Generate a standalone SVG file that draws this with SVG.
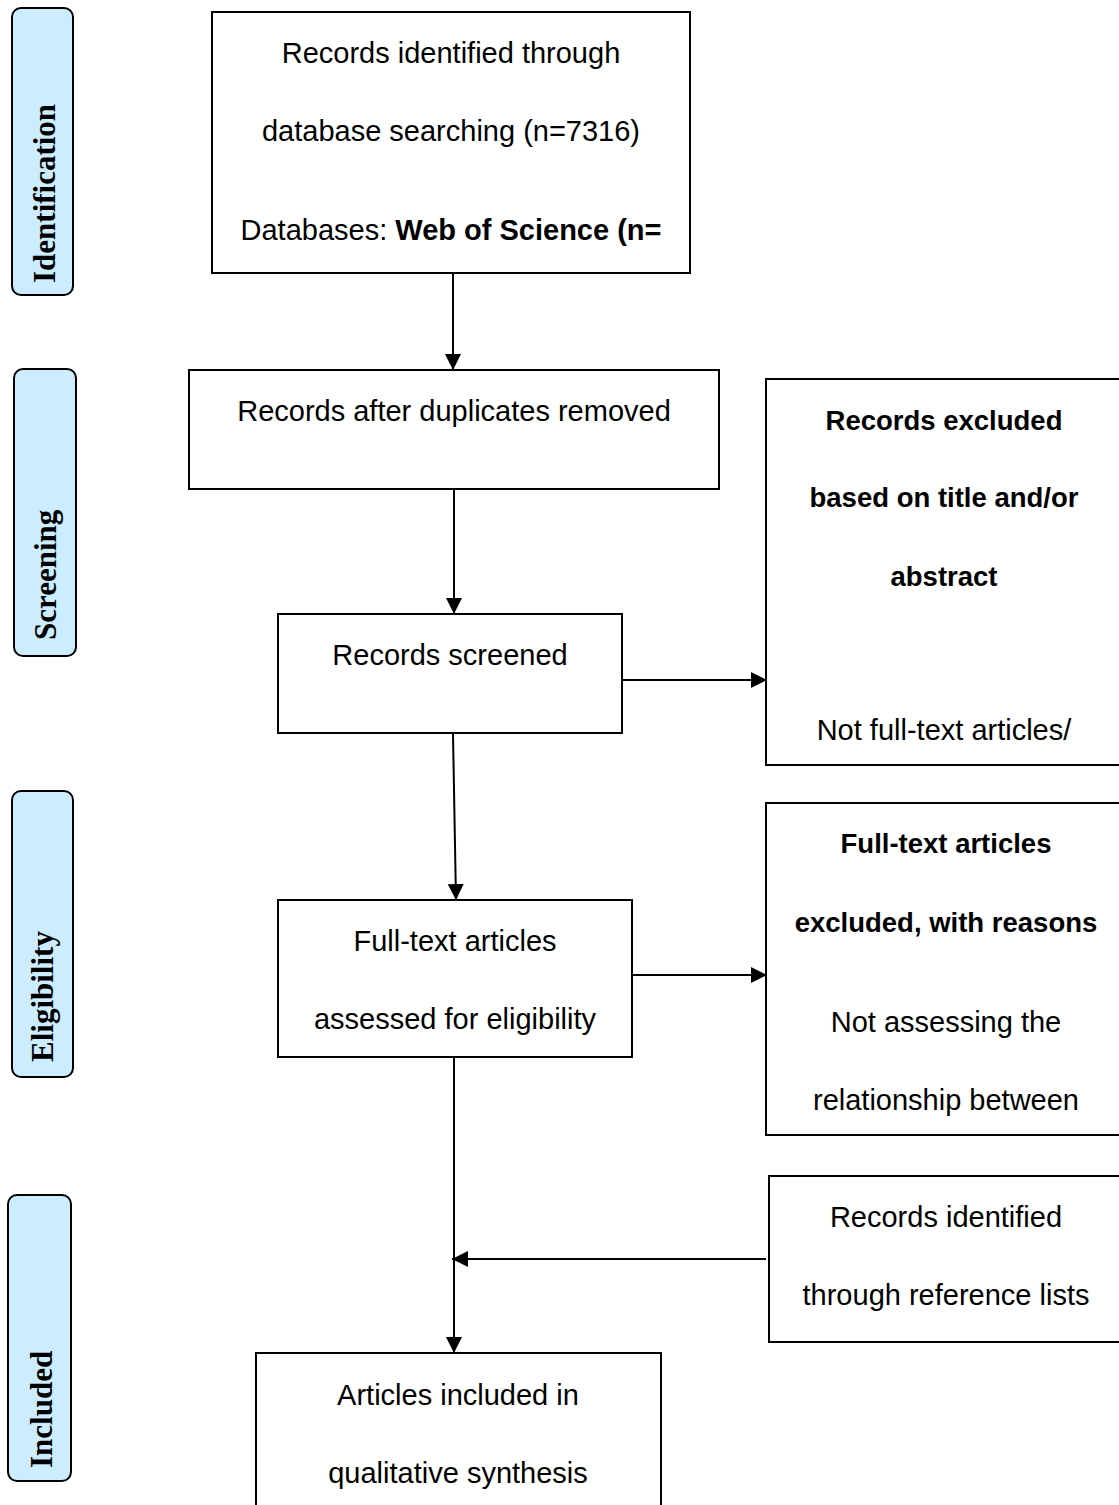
<svg xmlns="http://www.w3.org/2000/svg" width="1119" height="1505" viewBox="0 0 1119 1505">
<defs>
<style>
.box{fill:#fff;stroke:#000;stroke-width:2}
.phase{fill:#CCECFF;stroke:#000;stroke-width:2}
.t{font-family:"Liberation Sans",Arial,sans-serif;font-size:29px;fill:#000;text-anchor:middle}
.b{font-family:"Liberation Sans",Arial,sans-serif;font-size:27.5px;font-weight:bold;fill:#000;text-anchor:middle}
.p{font-family:"Liberation Serif","Times New Roman",serif;font-size:31px;font-weight:bold;fill:#000}
.c{fill:none;stroke:#000;stroke-width:2}
</style>
<marker id="arr" markerUnits="userSpaceOnUse" markerWidth="16" markerHeight="16" refX="15" refY="7.5" orient="auto" viewBox="0 0 15 15">
<path d="M0,0 L15,7.5 L0,15 z" fill="#000"/>
</marker>
</defs>
<g id="phase-identification">
<rect class="phase" x="12" y="8" width="61" height="287" rx="9"/>
<text class="p" transform="translate(55,283) rotate(-90)">Identification</text>
</g>
<g id="phase-screening">
<rect class="phase" x="14" y="369" width="62" height="287" rx="9"/>
<text class="p" transform="translate(56,640) rotate(-90)">Screening</text>
</g>
<g id="phase-eligibility">
<rect class="phase" x="12" y="791" width="61" height="286" rx="9"/>
<text class="p" transform="translate(53,1062) rotate(-90)">Eligibility</text>
</g>
<g id="phase-included">
<rect class="phase" x="8" y="1195" width="63" height="286" rx="9"/>
<text class="p" transform="translate(52,1468) rotate(-90)">Included</text>
</g>
<g id="identified">
<rect class="box" x="212" y="12" width="478" height="261"/>
<text class="t" x="451" y="63">Records identified through</text>
<text class="t" x="451" y="141">database searching (n=7316)</text>
<text class="t" x="451" y="240">Databases: <tspan font-weight="bold">Web of Science (n=</tspan></text>
</g>
<g id="duplicates">
<rect class="box" x="189" y="370" width="530" height="119"/>
<text class="t" x="454" y="421">Records after duplicates removed</text>
</g>
<g id="screened">
<rect class="box" x="278" y="614" width="344" height="119"/>
<text class="t" x="450" y="665">Records screened</text>
</g>
<g id="excluded-title">
<rect class="box" x="766" y="379" width="362" height="386"/>
<text class="b" x="944" y="430">Records excluded</text>
<text class="b" x="944" y="507">based on title and/or</text>
<text class="b" x="944" y="586">abstract</text>
<text class="t" x="944" y="740">Not full-text articles/</text>
</g>
<g id="eligibility">
<rect class="box" x="278" y="900" width="354" height="157"/>
<text class="t" x="455" y="951">Full-text articles</text>
<text class="t" x="455" y="1029">assessed for eligibility</text>
</g>
<g id="excluded-fulltext">
<rect class="box" x="766" y="803" width="362" height="332"/>
<text class="b" x="946" y="853">Full-text articles</text>
<text class="b" x="946" y="932">excluded, with reasons</text>
<text class="t" x="946" y="1032">Not assessing the</text>
<text class="t" x="946" y="1110">relationship between</text>
</g>
<g id="reference-lists">
<rect class="box" x="769" y="1176" width="359" height="166"/>
<text class="t" x="946" y="1227">Records identified</text>
<text class="t" x="946" y="1305">through reference lists</text>
</g>
<g id="included">
<rect class="box" x="256" y="1353" width="405" height="160"/>
<text class="t" x="458" y="1405">Articles included in</text>
<text class="t" x="458" y="1483">qualitative synthesis</text>
</g>
<g id="connectors">
<line class="c" x1="453" y1="274" x2="453" y2="370" marker-end="url(#arr)"/>
<line class="c" x1="454" y1="490" x2="454" y2="614" marker-end="url(#arr)"/>
<line class="c" x1="622" y1="680" x2="767" y2="680" marker-end="url(#arr)"/>
<line class="c" x1="453" y1="734" x2="456" y2="900" marker-end="url(#arr)"/>
<line class="c" x1="632" y1="975" x2="767" y2="975" marker-end="url(#arr)"/>
<line class="c" x1="454" y1="1058" x2="454" y2="1353" marker-end="url(#arr)"/>
<line class="c" x1="766" y1="1259" x2="452" y2="1259" marker-end="url(#arr)"/>
</g>
</svg>
